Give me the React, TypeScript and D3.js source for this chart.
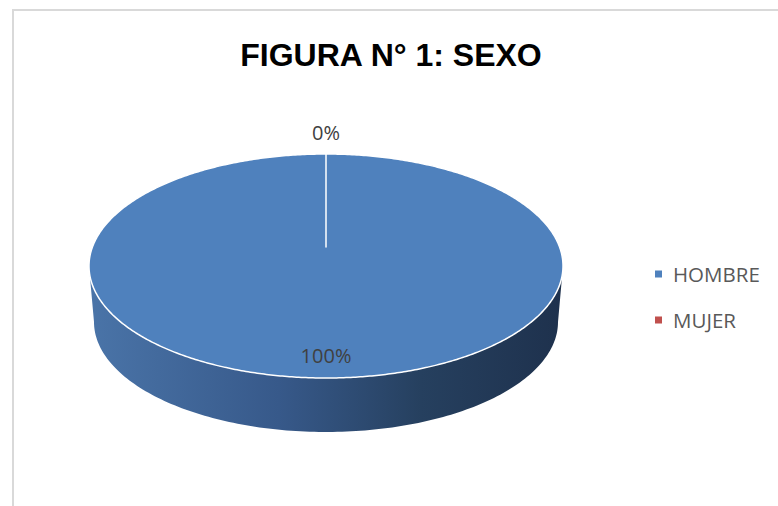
import React, { useEffect, useRef } from "react";
import * as d3 from "d3";

const title = "FIGURA N° 1: SEXO";
const categories = ["HOMBRE", "MUJER"];
const values = [100, 0];
const colors = ["#4f81bd", "#c0504d"];

const W = 778;
const H = 506;

const App: React.FC = () => {
  const svgRef = useRef<SVGSVGElement>(null);

  useEffect(() => {
    if (!svgRef.current) return;
    const svg = d3.select(svgRef.current);
    svg.selectAll("*").remove();

    const font = "'Open Sans', 'Noto Sans', sans-serif";

    // frame
    svg.append("rect")
      .attr("x", 13).attr("y", 10)
      .attr("width", W + 20).attr("height", H + 20)
      .attr("fill", "#fff")
      .attr("stroke", "#d9d9d9")
      .attr("stroke-width", 2);

    svg.append("text")
      .attr("x", 391).attr("y", 66)
      .attr("text-anchor", "middle")
      .attr("font-family", "'Liberation Sans', Arial, sans-serif")
      .attr("font-weight", "bold")
      .attr("font-size", 32)
      .attr("fill", "#000")
      .text(title);

    // 3D pie geometry
    const cx = 326, cy = 266, rx = 237, ry = 112;
    const depth = 56;
    const rxB = rx - 5, ryB = ry - 2;
    const persp = 19; // apparent centre sits above ellipse centre

    const pt = (a: number, rX = rx, rY = ry, c = cy): [number, number] =>
      [cx + rX * Math.sin(a), c - rY * Math.cos(a)];

    const defs = svg.append("defs");
    const grad = defs.append("linearGradient")
      .attr("id", "side")
      .attr("x1", "0%").attr("x2", "100%").attr("y1", "0%").attr("y2", "0%");
    [["0%", "#4a74a8"], ["40%", "#37598a"], ["70%", "#26405f"], ["100%", "#1e314d"]]
      .forEach(([o, c]) => grad.append("stop").attr("offset", o).attr("stop-color", c));

    const pie = d3.pie<number>().sort(null).startAngle(0).endAngle(2 * Math.PI);
    const arcs = pie(values);

    // side wall (front half only)
    const side = d3.path();
    const [rX0, rY0] = pt(Math.PI / 2);
    side.moveTo(rX0, rY0);
    for (let a = Math.PI / 2; a <= 1.5 * Math.PI + 1e-6; a += 0.02) {
      const [x, y] = pt(a);
      side.lineTo(x, y);
    }
    for (let a = 1.5 * Math.PI; a >= Math.PI / 2 - 1e-6; a -= 0.02) {
      const [x, y] = pt(a, rxB, ryB, cy + depth);
      side.lineTo(x, y);
    }
    side.closePath();
    svg.append("path")
      .attr("d", side.toString())
      .attr("fill", "url(#side)");

    // top faces
    arcs.forEach((d, i) => {
      if (d.endAngle - d.startAngle <= 0) return;
      const p = d3.path();
      p.moveTo(cx, cy - persp);
      const steps = Math.max(2, Math.ceil((d.endAngle - d.startAngle) / 0.01));
      for (let k = 0; k <= steps; k++) {
        const a = d.startAngle + ((d.endAngle - d.startAngle) * k) / steps;
        const [x, y] = pt(a);
        p.lineTo(x, y);
      }
      p.closePath();
      svg.append("path")
        .attr("d", p.toString())
        .attr("fill", colors[i])
        .attr("stroke", "#fff")
        .attr("stroke-width", 1.5)
        .attr("stroke-linejoin", "round");
    });

    // data labels
    arcs.forEach((d) => {
      const mid = (d.startAngle + d.endAngle) / 2;
      const zero = d.endAngle - d.startAngle <= 0;
      const [x, y] = zero ? pt(mid, rx, ry + 22) : pt(mid, rx * 0.85, ry * 0.8);
      svg.append("text")
        .attr("x", x).attr("y", y)
        .attr("text-anchor", "middle")
        .attr("dominant-baseline", "central")
        .attr("font-family", font)
        .attr("font-size", 20)
        .attr("fill", "#404040")
        .text(`${d3.format(".0f")((d.value / d3.sum(values)) * 100)}%`);
    });

    // legend
    const lg = svg.append("g").attr("transform", "translate(655,274)");
    categories.forEach((c, i) => {
      const row = lg.append("g").attr("transform", `translate(0,${i * 46})`);
      row.append("rect")
        .attr("x", 0).attr("y", -3.5)
        .attr("width", 7).attr("height", 7)
        .attr("fill", colors[i]);
      row.append("text")
        .attr("x", 18).attr("y", 0)
        .attr("dominant-baseline", "central")
        .attr("font-family", font)
        .attr("font-size", 20.5)
        .attr("fill", "#595959")
        .text(c);
    });
  }, []);

  return (
    <div style={{ position: "fixed", left: 0, top: 0, width: W, height: H, background: "#fff" }}>
      <svg ref={svgRef} width={W} height={H} />
    </div>
  );
};

export default App;
